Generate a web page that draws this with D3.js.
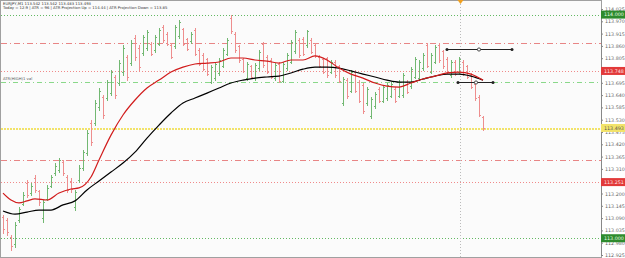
<!DOCTYPE html>
<html>
<head>
<meta charset="utf-8">
<script src="https://cdn.jsdelivr.net/npm/d3@7"></script>
<style>
  body { margin: 0; background: #fff; }
  svg { display: block; font-family: "DejaVu Sans", sans-serif; }
</style>
</head>
<body>
<div id="chart"></div>
<script>
// M1 bars, [open, high, low, close]
const bars = [
  [113.095,113.104,113.023,113.040],[113.080,113.091,113.015,113.030],[113.005,113.015,112.947,112.965],
  [112.975,113.073,112.961,113.060],[113.080,113.140,113.073,113.130],[113.155,113.207,113.149,113.195],
  [113.245,113.260,113.184,113.195],[113.200,113.247,113.193,113.235],[113.270,113.283,113.207,113.215],
  [113.210,113.216,113.149,113.160],[113.090,113.171,113.073,113.160],[113.175,113.238,113.171,113.225],
  [113.235,113.283,113.229,113.275],[113.290,113.336,113.283,113.325],[113.305,113.359,113.296,113.350],
  [113.340,113.350,113.283,113.290],[113.275,113.283,113.207,113.215],[113.255,113.269,113.207,113.220],
  [113.140,113.216,113.126,113.205],[113.260,113.327,113.251,113.315],[113.315,113.394,113.305,113.385],
  [113.380,113.484,113.372,113.470],[113.515,113.529,113.417,113.430],[113.515,113.618,113.506,113.605],
  [113.585,113.672,113.573,113.660],[113.630,113.640,113.538,113.550],[113.625,113.707,113.618,113.700],
  [113.650,113.752,113.640,113.745],[113.720,113.730,113.627,113.640],[113.695,113.797,113.685,113.785],
  [113.745,113.864,113.730,113.850],[113.810,113.819,113.707,113.720],[113.785,113.886,113.774,113.875],
  [113.895,113.909,113.797,113.810],[113.850,113.864,113.752,113.765],[113.830,113.909,113.819,113.900],
  [113.850,113.931,113.841,113.920],[113.870,113.877,113.819,113.825],[113.840,113.909,113.833,113.900],
  [113.870,113.940,113.864,113.930],[113.945,113.953,113.877,113.885],[113.915,113.922,113.864,113.870],
  [113.865,113.873,113.806,113.812],[113.860,113.953,113.850,113.945],[113.905,113.976,113.895,113.965],
  [113.935,113.940,113.864,113.870],[113.890,113.895,113.841,113.848],[113.880,113.922,113.873,113.915],
  [113.930,113.940,113.819,113.825],[113.840,113.850,113.774,113.780],[113.820,113.828,113.752,113.758],
  [113.800,113.806,113.730,113.735],[113.700,113.774,113.694,113.765],[113.715,113.788,113.707,113.780],
  [113.738,113.806,113.730,113.798],[113.772,113.850,113.765,113.842],[113.825,113.895,113.819,113.888],
  [113.985,113.998,113.917,113.925],[113.915,113.922,113.833,113.840],[113.858,113.864,113.788,113.795],
  [113.800,113.806,113.743,113.748],[113.715,113.788,113.707,113.780],[113.768,113.774,113.716,113.722],
  [113.715,113.783,113.707,113.775],[113.760,113.841,113.752,113.832],[113.868,113.877,113.765,113.775],
  [113.812,113.819,113.739,113.745],[113.798,113.806,113.716,113.722],[113.715,113.783,113.707,113.775],
  [113.780,113.788,113.698,113.705],[113.705,113.788,113.698,113.780],[113.760,113.828,113.752,113.820],
  [113.790,113.886,113.783,113.878],[113.835,113.931,113.828,113.922],[113.888,113.895,113.810,113.818],
  [113.893,113.900,113.819,113.825],[113.862,113.931,113.855,113.925],[113.888,113.895,113.828,113.832],
  [113.866,113.873,113.810,113.815],[113.812,113.819,113.765,113.770],[113.800,113.806,113.739,113.745],
  [113.805,113.810,113.721,113.728],[113.745,113.797,113.739,113.790],[113.790,113.797,113.721,113.728],
  [113.768,113.774,113.698,113.705],[113.605,113.721,113.596,113.712],[113.708,113.716,113.627,113.635],
  [113.660,113.752,113.654,113.745],[113.745,113.752,113.654,113.660],[113.700,113.707,113.609,113.615],
  [113.685,113.694,113.560,113.570],[113.603,113.676,113.596,113.668],[113.545,113.631,113.538,113.622],
  [113.590,113.654,113.582,113.645],[113.668,113.676,113.609,113.615],[113.615,113.685,113.609,113.678],
  [113.625,113.694,113.618,113.686],[113.638,113.698,113.631,113.690],[113.668,113.676,113.609,113.615],
  [113.638,113.707,113.631,113.700],[113.640,113.739,113.631,113.730],[113.700,113.707,113.649,113.655],
  [113.680,113.765,113.672,113.758],[113.722,113.810,113.716,113.802],[113.715,113.797,113.707,113.790],
  [113.760,113.828,113.752,113.820],[113.865,113.873,113.765,113.772],[113.745,113.828,113.739,113.820],
  [113.790,113.864,113.783,113.856],[113.866,113.873,113.788,113.795],[113.835,113.841,113.761,113.768],
  [113.803,113.810,113.739,113.745],[113.728,113.797,113.721,113.790],[113.790,113.797,113.730,113.735],
  [113.745,113.810,113.739,113.803],[113.790,113.797,113.730,113.736],[113.768,113.774,113.716,113.722],
  [113.732,113.739,113.672,113.678],[113.688,113.694,113.618,113.625],[113.632,113.640,113.545,113.552],
  [113.542,113.548,113.483,113.493]
];

// moving averages, [bar index, value]
const fastMa = [
  [0,113.202],[2,113.171],[4,113.158],[6,113.167],[8,113.176],[11,113.171],[14,113.202],[17,113.220],
  [19,113.225],[22,113.274],[24,113.350],[27,113.461],[30,113.551],[33,113.618],[36,113.672],[39,113.707],
  [42,113.743],[45,113.765],[48,113.779],[51,113.783],[54,113.788],[57,113.806],[60,113.806],[63,113.797],
  [66,113.792],[69,113.783],[72,113.797],[75,113.797],[78,113.815],[81,113.797],[84,113.761],[87,113.734],
  [90,113.716],[93,113.694],[96,113.680],[99,113.676],[102,113.694],[105,113.712],[108,113.725],
  [111,113.739],[114,113.743],[117,113.734],[120,113.707]
];
const slowMa = [
  [0,113.122],[3,113.108],[6,113.117],[9,113.126],[12,113.126],[15,113.149],[18,113.167],[21,113.216],
  [24,113.256],[27,113.296],[30,113.336],[33,113.385],[36,113.448],[39,113.506],[42,113.560],[45,113.605],
  [48,113.627],[51,113.649],[54,113.672],[57,113.694],[60,113.707],[63,113.716],[66,113.721],[69,113.725],
  [72,113.739],[75,113.756],[78,113.765],[81,113.765],[84,113.761],[87,113.748],[90,113.734],[93,113.721],
  [96,113.707],[99,113.698],[102,113.698],[105,113.712],[108,113.725],[111,113.734],[114,113.734],
  [117,113.725],[120,113.707]
];

const tickLabels = ["114.025","113.970","113.915","113.860","113.805","113.750","113.695","113.640",
  "113.585","113.530","113.475","113.420","113.365","113.310","113.255","113.200","113.145","113.090",
  "113.035","112.980","112.925"];

const roundLevels = [114.000, 113.000];
const projLevels = [113.873, 113.350];
const rangeLevels = [113.748, 113.251];
const atrHighLevel = 113.699;
const lastPrice = 113.493;

// drawn horizontal segments: [from bar, to bar, mid bar, price]
const segments = [[111, 127.25, 119, 113.847], [113.75, 122.5, 118.25, 113.697]];
const cursorBar = 114.25;

const headerLine1 = "EURJPY,M1  113.542 113.542 113.483 113.493";
const headerLine2 = "Today = 12.9   |   ATR = 96   |   ATR Projection Up = 114.44   |   ATR Projection Down = 113.85";
const atrLabel = "ATR(HIGH)1 val";

const width = 625, height = 258, plotRight = 601;

let svg = d3.select('#chart').append('svg')
  .attr('width', width)
  .attr('height', height);

let x = d3.scaleLinear().domain([-0.75, 149.25]).range([0, 600]);
let y = d3.scaleLinear().domain([112.925, 114.025]).range([255, 9]);
let px = i => Math.round(x(i)) + 0.5;
let fmt = d3.format('.3f');

svg.append('rect').attr('width', width).attr('height', height).attr('fill', '#fff');
svg.append('rect').attr('x', 0.5).attr('y', 0.5).attr('width', plotRight).attr('height', height - 1)
  .attr('fill', '#fbfbfb').attr('stroke', '#a0a0a0');

// horizontal levels
function level(p, color, dash, w) {
  svg.append('line')
    .attr('x1', 1).attr('x2', plotRight)
    .attr('y1', Math.round(y(p)) + 0.5).attr('y2', Math.round(y(p)) + 0.5)
    .attr('shape-rendering', 'crispEdges')
    .attr('stroke', color).attr('stroke-width', w || 1)
    .attr('stroke-dasharray', dash);
}
roundLevels.forEach(p => level(p, '#62b962', '1,2'));
projLevels.forEach(p => level(p, '#e88585', '6,3,1,3'));
rangeLevels.forEach(p => level(p, '#f08a8a', '1,2'));
level(atrHighLevel, '#8ad88a', '5,3,1,3');
level(lastPrice, '#f2e36a', '2,1', 2);

// time cursor
svg.append('line')
  .attr('x1', px(cursorBar)).attr('x2', px(cursorBar))
  .attr('y1', 1).attr('y2', height - 1)
  .attr('stroke', '#bbb').attr('stroke-dasharray', '1,2');
svg.append('path')
  .attr('d', `M${px(cursorBar) - 3},0 L${px(cursorBar) + 3},0 L${px(cursorBar)},4 Z`)
  .attr('fill', '#f0a020');

// ohlc bars
let bar = svg.append('g').attr('shape-rendering', 'crispEdges')
  .selectAll('g').data(bars).enter().append('g')
  .attr('stroke', d => d[3] >= d[0] ? '#72b872' : '#ee8e8e');

bar.append('line')
  .attr('x1', (d, i) => px(i)).attr('x2', (d, i) => px(i))
  .attr('y1', d => y(d[1])).attr('y2', d => y(d[2]) + 1);
bar.append('line')
  .attr('x1', (d, i) => px(i) - 1.5).attr('x2', (d, i) => px(i))
  .attr('y1', d => Math.round(y(d[0])) + 0.5).attr('y2', d => Math.round(y(d[0])) + 0.5);
bar.append('line')
  .attr('x1', (d, i) => px(i)).attr('x2', (d, i) => px(i) + 1.5)
  .attr('y1', d => Math.round(y(d[3])) + 0.5).attr('y2', d => Math.round(y(d[3])) + 0.5);

// moving averages
let maLine = d3.line().x(d => x(d[0])).y(d => y(d[1])).curve(d3.curveMonotoneX);
svg.append('path').datum(slowMa).attr('d', maLine)
  .attr('fill', 'none').attr('stroke', '#000').attr('stroke-width', 1.2);
svg.append('path').datum(fastMa).attr('d', maLine)
  .attr('fill', 'none').attr('stroke', '#d11c1c').attr('stroke-width', 1.2);

// drawn segments
segments.forEach(s => {
  let yy = Math.round(y(s[3])) + 0.5;
  svg.append('line').attr('x1', x(s[0])).attr('x2', x(s[1]))
    .attr('y1', yy).attr('y2', yy).attr('stroke', '#222').attr('stroke-width', 1);
  [s[0], s[1]].forEach(b => svg.append('circle').attr('cx', x(b)).attr('cy', yy).attr('r', 1.5).attr('fill', '#222'));
  svg.append('circle').attr('cx', x(s[2])).attr('cy', yy).attr('r', 1.6)
    .attr('fill', '#fff').attr('stroke', '#222').attr('stroke-width', 0.8);
});

// texts
svg.append('text').attr('x', 3).attr('y', 4.5).attr('font-size', 3.8).attr('fill', '#333').text(headerLine1);
svg.append('text').attr('x', 3).attr('y', 9).attr('font-size', 3.8).attr('fill', '#333').text(headerLine2);
svg.append('text').attr('x', 3).attr('y', y(atrHighLevel) - 2).attr('font-size', 3.8).attr('fill', '#555').text(atrLabel);

// right price axis
let axis = svg.append('g')
  .attr('transform', `translate(${plotRight},0)`)
  .call(d3.axisRight(y).tickValues(tickLabels.map(Number)).tickFormat(fmt).tickSize(2).tickPadding(2));
axis.select('.domain').attr('stroke', '#888');
axis.selectAll('.tick line').attr('stroke', '#888');
axis.selectAll('text').attr('font-size', 4.8).attr('fill', '#666').attr('font-family', '"DejaVu Sans", sans-serif');

// price boxes
function box(p, fill, color) {
  let g = svg.append('g').attr('transform', `translate(${plotRight},${y(p)})`);
  g.append('rect').attr('x', 0).attr('y', -4).attr('width', 24).attr('height', 8).attr('fill', fill);
  g.append('text').attr('x', 3).attr('y', 1.8).attr('font-size', 4.8).attr('fill', color).text(fmt(p));
}
roundLevels.forEach(p => box(p, '#2e8b2e', '#e8ffe8'));
rangeLevels.forEach(p => box(p, '#e23a3a', '#ffe8e8'));
box(lastPrice, '#f2e36a', '#555');
</script>
</body>
</html>
